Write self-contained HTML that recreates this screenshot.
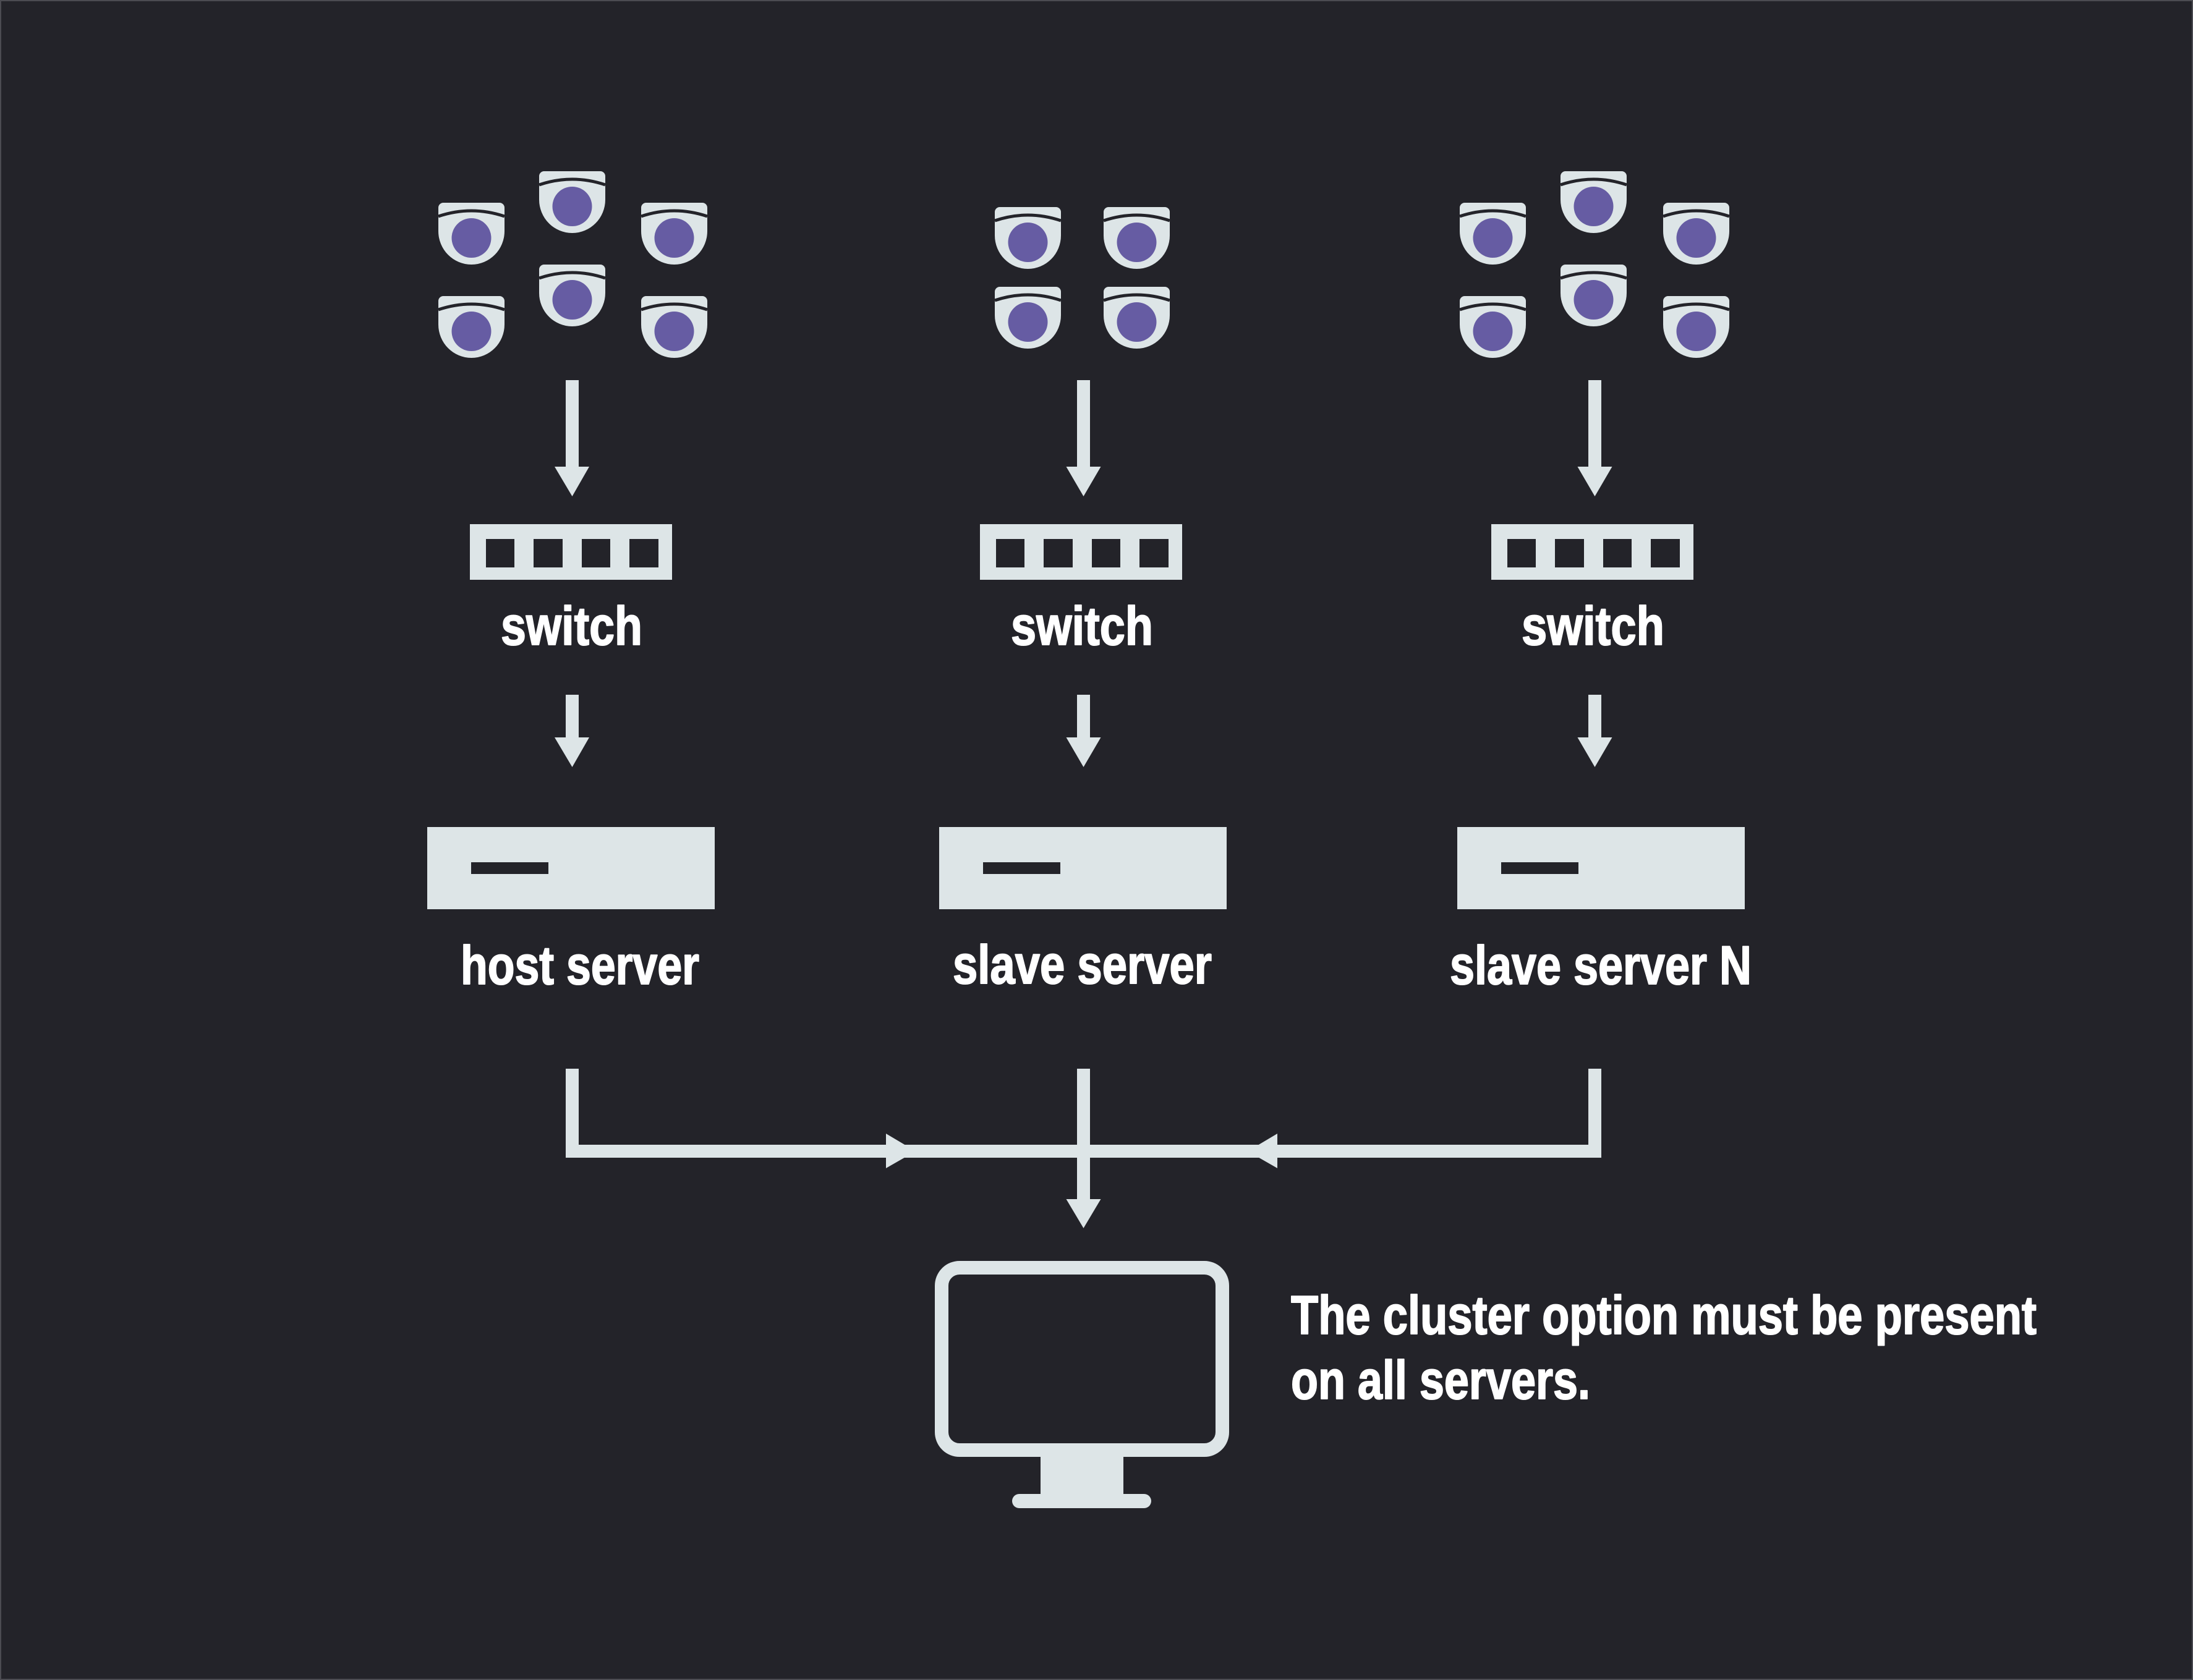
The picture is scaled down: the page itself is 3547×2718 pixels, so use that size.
<!DOCTYPE html>
<html>
<head>
<meta charset="utf-8">
<style>
  html,body{margin:0;padding:0;background:#232329;}
  body{width:3547px;height:2718px;overflow:hidden;}
  svg{display:block;}
  text{font-family:"Liberation Sans",Arial,sans-serif;font-weight:bold;fill:#ffffff;stroke:#ffffff;stroke-width:2;stroke-linejoin:round;}
</style>
</head>
<body>
<svg width="3547" height="2718" viewBox="0 0 3547 2718" xmlns="http://www.w3.org/2000/svg">
  <defs>
    <g id="cam">
      <path d="M0,8 A8,8 0 0 1 8,0 H99 A8,8 0 0 1 107,8 V46 A53.5,54 0 0 1 0,46 Z" fill="#dde5e7"/>
      <path d="M0,22 Q53.5,4 107,22" fill="none" stroke="#232329" stroke-width="5"/>
      <circle cx="53.5" cy="57" r="32" fill="#665ca3"/>
    </g>
    <g id="sw">
      <rect x="0" y="0" width="327" height="90" fill="#dde5e7"/>
      <rect x="26" y="24" width="46" height="46" fill="#232329"/>
      <rect x="103" y="24" width="47" height="46" fill="#232329"/>
      <rect x="181" y="24" width="46" height="46" fill="#232329"/>
      <rect x="258" y="24" width="47" height="46" fill="#232329"/>
    </g>
    <g id="srv">
      <rect x="0" y="0" width="465" height="133" fill="#dde5e7"/>
      <rect x="71" y="57" width="125" height="19" fill="#232329"/>
    </g>
  </defs>

  <rect x="0" y="0" width="3547" height="2718" fill="#232329"/>
  <rect x="1" y="1" width="3545" height="2716" fill="none" stroke="#4b4b51" stroke-width="2"/>

  <!-- Cameras column 1 -->
  <use href="#cam" x="709" y="328"/>
  <use href="#cam" x="872" y="277"/>
  <use href="#cam" x="1037" y="328"/>
  <use href="#cam" x="709" y="479"/>
  <use href="#cam" x="872" y="428"/>
  <use href="#cam" x="1037" y="479"/>

  <!-- Cameras column 2 -->
  <use href="#cam" x="1609" y="335"/>
  <use href="#cam" x="1785" y="335"/>
  <use href="#cam" x="1609" y="464"/>
  <use href="#cam" x="1785" y="464"/>

  <!-- Cameras column 3 -->
  <use href="#cam" x="2361" y="328"/>
  <use href="#cam" x="2524" y="277"/>
  <use href="#cam" x="2690" y="328"/>
  <use href="#cam" x="2361" y="479"/>
  <use href="#cam" x="2524" y="428"/>
  <use href="#cam" x="2690" y="479"/>

  <!-- Arrows cameras -> switch -->
  <g fill="#dde5e7">
    <rect x="915" y="615" width="21" height="142"/>
    <polygon points="897,755 953,755 925.5,803"/>
    <rect x="1742" y="615" width="21" height="142"/>
    <polygon points="1724.5,755 1780.5,755 1752.5,803"/>
    <rect x="2569" y="615" width="21" height="142"/>
    <polygon points="2551.5,755 2607.5,755 2579.5,803"/>
  </g>

  <!-- Switches -->
  <use href="#sw" x="760" y="848"/>
  <use href="#sw" x="1585" y="848"/>
  <use href="#sw" x="2412" y="848"/>

  <text x="810" y="1043" font-size="88" textLength="229" lengthAdjust="spacingAndGlyphs">switch</text>
  <text x="1635" y="1043" font-size="88" textLength="230" lengthAdjust="spacingAndGlyphs">switch</text>
  <text x="2461" y="1043" font-size="88" textLength="231" lengthAdjust="spacingAndGlyphs">switch</text>

  <!-- Arrows switch -> server -->
  <g fill="#dde5e7">
    <rect x="915" y="1124" width="21" height="71"/>
    <polygon points="897,1193 953,1193 925.5,1241"/>
    <rect x="1742" y="1124" width="21" height="71"/>
    <polygon points="1724.5,1193 1780.5,1193 1752.5,1241"/>
    <rect x="2569" y="1124" width="21" height="71"/>
    <polygon points="2551.5,1193 2607.5,1193 2579.5,1241"/>
  </g>

  <!-- Servers -->
  <use href="#srv" x="691" y="1338"/>
  <use href="#srv" x="1519" y="1338"/>
  <use href="#srv" x="2357" y="1338"/>

  <text x="745" y="1592" font-size="88" textLength="386" lengthAdjust="spacingAndGlyphs">host server</text>
  <text x="1541" y="1591" font-size="88" textLength="419" lengthAdjust="spacingAndGlyphs">slave server</text>
  <text x="2345" y="1592" font-size="88" textLength="488" lengthAdjust="spacingAndGlyphs">slave server N</text>

  <!-- Bottom connectors -->
  <g fill="#dde5e7">
    <rect x="915" y="1729" width="21" height="144"/>
    <rect x="2569" y="1729" width="21" height="144"/>
    <rect x="915" y="1852" width="1675" height="21"/>
    <rect x="1742" y="1729" width="21" height="213"/>
    <polygon points="1724.5,1940 1780.5,1940 1752.5,1987"/>
    <polygon points="1433,1834 1433,1890 1481,1862.5"/>
    <polygon points="2066,1834 2066,1890 2018,1862.5"/>
  </g>

  <!-- Monitor -->
  <rect x="1523" y="2051" width="454" height="295" rx="29" ry="29" fill="none" stroke="#dde5e7" stroke-width="22"/>
  <rect x="1683" y="2355" width="134" height="65" fill="#dde5e7"/>
  <rect x="1637" y="2417" width="225" height="23" rx="11.5" ry="11.5" fill="#dde5e7"/>

  <!-- Note text -->
  <text x="2088" y="2158" font-size="88" textLength="1206" lengthAdjust="spacingAndGlyphs">The cluster option must be present</text>
  <text x="2088" y="2263" font-size="88" textLength="484" lengthAdjust="spacingAndGlyphs">on all servers.</text>
</svg>
</body>
</html>
